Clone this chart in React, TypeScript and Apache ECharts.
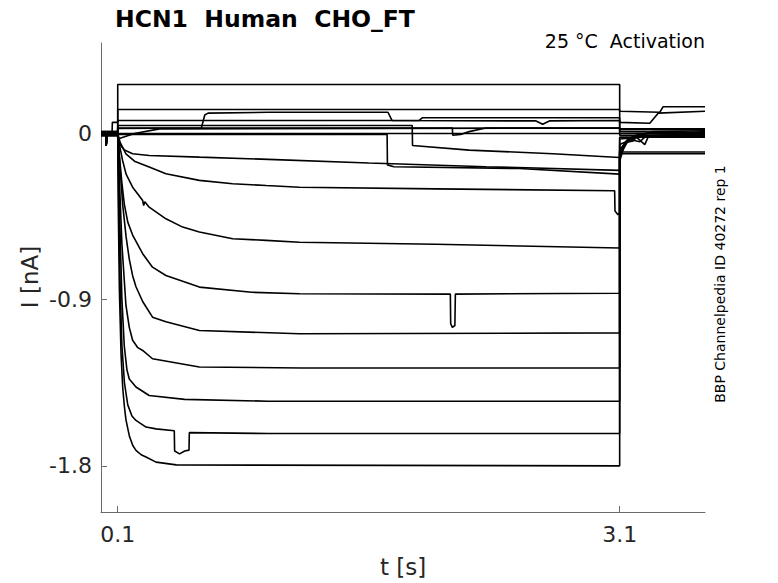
import React, { useEffect, useRef } from "react";
import * as echarts from "echarts";

// ---- axis ticks ----
const X_TICKS = [0.1, 3.1];
const Y_TICKS = [-1.8, -0.9, 0];

// ---- pre-pulse segments (t, I [nA]) ----
const PRE = [[0, 0], [0.028, 0], [0.031, -0.065], [0.035, 0], [0.1, 0]];
const PRE_HI = [[0, 0.01], [0.1, 0.01]];
const PRE_LO = [[0, -0.012], [0.1, -0.012]];
const PRE_UP = [[0, 0], [0.066, 0], [0.068, 0.06], [0.1, 0.06]];

// ---- pulse segments (t from 0.1 to 3.1 s) ----
const N1 = [[0.1, 0], [0.104, -0.45], [0.11, -0.85], [0.12, -1.2], [0.13, -1.38], [0.14, -1.48], [0.149, -1.55], [0.17, -1.64], [0.19, -1.69], [0.209, -1.716], [0.24, -1.74], [0.269, -1.752], [0.329, -1.78], [0.45, -1.795], [3.1, -1.8]];
const N2 = [[0.1, 0], [0.106, -0.4], [0.115, -0.85], [0.125, -1.15], [0.14, -1.35], [0.16, -1.47], [0.185, -1.53], [0.209, -1.554], [0.269, -1.59], [0.329, -1.6], [0.438, -1.61], [0.44, -1.72], [0.47, -1.735], [0.5, -1.72], [0.526, -1.715], [0.528, -1.62], [1.0, -1.625], [3.1, -1.625]];
const N3 = [[0.1, 0], [0.11, -0.4], [0.125, -0.9], [0.139, -1.15], [0.155, -1.28], [0.169, -1.33], [0.209, -1.373], [0.288, -1.419], [0.5, -1.44], [1.0, -1.45], [3.1, -1.45]];
const N4 = [[0.1, 0], [0.112, -0.3], [0.125, -0.6], [0.149, -0.93], [0.169, -1.05], [0.189, -1.12], [0.22, -1.16], [0.249, -1.175], [0.308, -1.22], [0.588, -1.265], [1.2, -1.27], [3.1, -1.27]];
const N5 = [[0.1, 0], [0.115, -0.2], [0.129, -0.38], [0.15, -0.56], [0.169, -0.68], [0.189, -0.77], [0.209, -0.83], [0.249, -0.91], [0.308, -0.995], [0.388, -1.02], [0.588, -1.067], [1.186, -1.085], [3.1, -1.08]];
const N6 = [[0.1, 0], [0.11, -0.12], [0.125, -0.27], [0.139, -0.381], [0.16, -0.48], [0.189, -0.55], [0.249, -0.651], [0.308, -0.724], [0.388, -0.769], [0.588, -0.832], [0.9, -0.86], [1.186, -0.868], [2.088, -0.87], [2.09, -1.03], [2.1, -1.05], [2.115, -1.04], [2.118, -0.87], [3.1, -0.865]];
const N7 = [[0.1, 0], [0.11, -0.06], [0.129, -0.146], [0.15, -0.22], [0.189, -0.291], [0.23, -0.34], [0.249, -0.363], [0.255, -0.39], [0.262, -0.37], [0.288, -0.399], [0.388, -0.462], [0.488, -0.507], [0.588, -0.534], [0.787, -0.57], [0.987, -0.579], [1.186, -0.589], [2.0, -0.6], [3.1, -0.62]];
const N8 = [[0.1, 0], [0.115, -0.05], [0.149, -0.11], [0.2, -0.15], [0.288, -0.182], [0.388, -0.218], [0.588, -0.254], [0.787, -0.272], [0.987, -0.282], [1.186, -0.291], [2.0, -0.3], [3.07, -0.31], [3.072, -0.42], [3.09, -0.44], [3.1, -0.43]];
const N9 = [[0.1, 0], [0.109, -0.056], [0.14, -0.09], [0.189, -0.11], [0.288, -0.119], [0.588, -0.128], [1.0, -0.14], [1.6, -0.16], [2.3, -0.18], [3.1, -0.2]];
const P1 = [[0.1, 0], [0.1, 0.265], [3.1, 0.265]];
const P2 = [[0.1, 0], [0.1, 0.13], [3.1, 0.13]];
const P3 = [[0.1, 0.027], [0.6, 0.03], [0.62, 0.1], [0.64, 0.11], [1.0, 0.115], [1.715, 0.115], [1.74, 0.07], [2.6, 0.068], [2.64, 0.05], [2.68, 0.068], [3.1, 0.07]];
const P4 = [[0.1, 0.07], [1.9, 0.07], [1.92, 0.085], [3.1, 0.085]];
const P5 = [[0.1, 0.03], [2.1, 0.03], [2.102, -0.01], [2.15, -0.005], [2.2, 0.01], [2.3, 0.03], [3.1, 0.03]];
const P6 = [[0.1, -0.005], [1.71, -0.005], [1.712, -0.17], [1.75, -0.18], [2.5, -0.19], [3.1, -0.22]];
const P7 = [[0.1, 0.043], [1.86, 0.043], [1.862, -0.065], [2.2, -0.09], [2.7, -0.11], [3.1, -0.13]];
const P8 = [[0.1, -0.03], [0.2, 0], [0.35, 0.025], [3.1, 0.03]];
const P9 = [[0.1, 0], [3.1, 0.0]];

// ---- post-pulse tails (t from 3.1 s) ----
const TAIL_A = [[3.1, -0.15], [3.12, -0.09], [3.15, -0.035], [3.2, -0.01], [3.3, 0.005], [3.61, 0.005]];
const TAIL_B = [[3.1, -0.14], [3.12, -0.08], [3.16, -0.03], [3.22, -0.015], [3.61, -0.01]];
const TAIL_C = [[3.1, -0.13], [3.13, -0.06], [3.17, -0.02], [3.3, 0.01], [3.61, 0.015]];
const TAIL_D = [[3.1, -0.12], [3.13, -0.05], [3.18, -0.04], [3.2, -0.02], [3.25, -0.06], [3.27, -0.02], [3.61, 0]];
const TAIL_E = [[3.1, -0.1], [3.14, -0.04], [3.2, -0.01], [3.61, -0.005]];
const TAIL_F = [[3.1, -0.09], [3.15, -0.03], [3.22, -0.045], [3.25, -0.02], [3.61, 0.01]];
const TAIL_G = [[3.1, -0.06], [3.2, -0.02], [3.61, -0.02]];
const TAIL_H = [[3.1, -0.11], [3.61, -0.11]];
const TAIL_I = [[3.1, -0.03], [3.3, -0.015], [3.61, -0.015]];
const TAIL_P1 = [[3.1, 0.12], [3.34, 0.115], [3.36, 0.145], [3.61, 0.145]];
const TAIL_P2 = [[3.1, 0.06], [3.28, 0.055], [3.33, 0.11], [3.61, 0.12]];
const TAIL_P3 = [[3.1, 0.02], [3.61, 0.02]];
const TAIL_P4 = [[3.1, 0.01], [3.61, 0.005]];
const TAIL_P5 = [[3.1, 0], [3.61, 0]];
const TAIL_P6 = [[3.1, -0.02], [3.61, -0.02]];
const TAIL_P7 = [[3.1, -0.1], [3.61, -0.1]];
const TAIL_P8 = [[3.1, 0.025], [3.61, 0.025]];
const TAIL_P9 = [[3.1, -0.01], [3.61, -0.01]];

const TRACES = [
  [PRE, N1, TAIL_A], [PRE, N2, TAIL_B], [PRE, N3, TAIL_C], [PRE, N4, TAIL_D],
  [PRE, N5, TAIL_E], [PRE, N6, TAIL_F], [PRE, N7, TAIL_G], [PRE, N8, TAIL_H],
  [PRE, N9, TAIL_I], [PRE, P1, TAIL_P1], [PRE_HI, P2, TAIL_P2], [PRE_LO, P3, TAIL_P3],
  [PRE_UP, P4, TAIL_P4], [PRE, P5, TAIL_P5], [PRE, P6, TAIL_P6], [PRE_HI, P7, TAIL_P7],
  [PRE_LO, P8, TAIL_P8], [PRE, P9, TAIL_P9],
];

const FONT = "DejaVu Sans";

export default function App() {
  const ref = useRef<HTMLDivElement>(null);
  useEffect(() => {
    if (!ref.current) return;
    const chart = echarts.init(ref.current, undefined, { renderer: "svg" });
    const series = TRACES.map((parts) => ({
      type: "line",
      data: ([] as number[][]).concat(...parts),
      showSymbol: false,
      symbol: "none",
      silent: true,
      lineStyle: { color: "#000", width: 1.6 },
    }));
    chart.setOption({
      animation: false,
      grid: { left: 101, right: 73, top: 43, bottom: 71, containLabel: false },
      xAxis: {
        type: "value",
        min: 0,
        max: 3.61,
        axisLine: { show: true, onZero: false, lineStyle: { color: "#6a6a6a", width: 1 } },
        axisTick: { show: true, inside: true, length: 6, customValues: X_TICKS, lineStyle: { color: "#6a6a6a" } },
        axisLabel: { customValues: X_TICKS, fontSize: 22, fontFamily: FONT, color: "#262626", margin: 11 },
        splitLine: { show: false },
      },
      yAxis: {
        type: "value",
        min: -2.05,
        max: 0.49,
        axisLine: { show: true, onZero: false, lineStyle: { color: "#6a6a6a", width: 1 } },
        axisTick: { show: true, inside: true, length: 6, customValues: Y_TICKS, lineStyle: { color: "#6a6a6a" } },
        axisLabel: { customValues: Y_TICKS, fontSize: 22, fontFamily: FONT, color: "#262626", margin: 9 },
        splitLine: { show: false },
      },
      graphic: [
        { type: "text", x: 115, y: 19, style: { text: "HCN1  Human  CHO_FT", font: `bold 23.5px '${FONT}'`, fill: "#000", align: "left", verticalAlign: "middle", textAlign: "left", textVerticalAlign: "middle" } },
        { type: "text", x: 705, y: 41, style: { text: "25 °C  Activation", font: `19px '${FONT}'`, fill: "#000", align: "right", verticalAlign: "middle", textAlign: "right", textVerticalAlign: "middle" } },
        { type: "text", x: 30, y: 277, rotation: Math.PI / 2, style: { text: "I [nA]", font: `23px '${FONT}'`, fill: "#262626", align: "center", verticalAlign: "middle", textAlign: "center", textVerticalAlign: "middle" } },
        { type: "text", x: 403, y: 567, style: { text: "t [s]", font: `23px '${FONT}'`, fill: "#262626", align: "center", verticalAlign: "middle", textAlign: "center", textVerticalAlign: "middle" } },
        { type: "text", x: 720, y: 284, rotation: Math.PI / 2, style: { text: "BBP Channelpedia ID 40272 rep 1", font: `14px '${FONT}'`, fill: "#000", align: "center", verticalAlign: "middle", textAlign: "center", textVerticalAlign: "middle" } },
      ],
      series,
    });
    return () => chart.dispose();
  }, []);
  return <div ref={ref} style={{ position: "absolute", left: 0, top: 0, width: 778, height: 583 }} />;
}
